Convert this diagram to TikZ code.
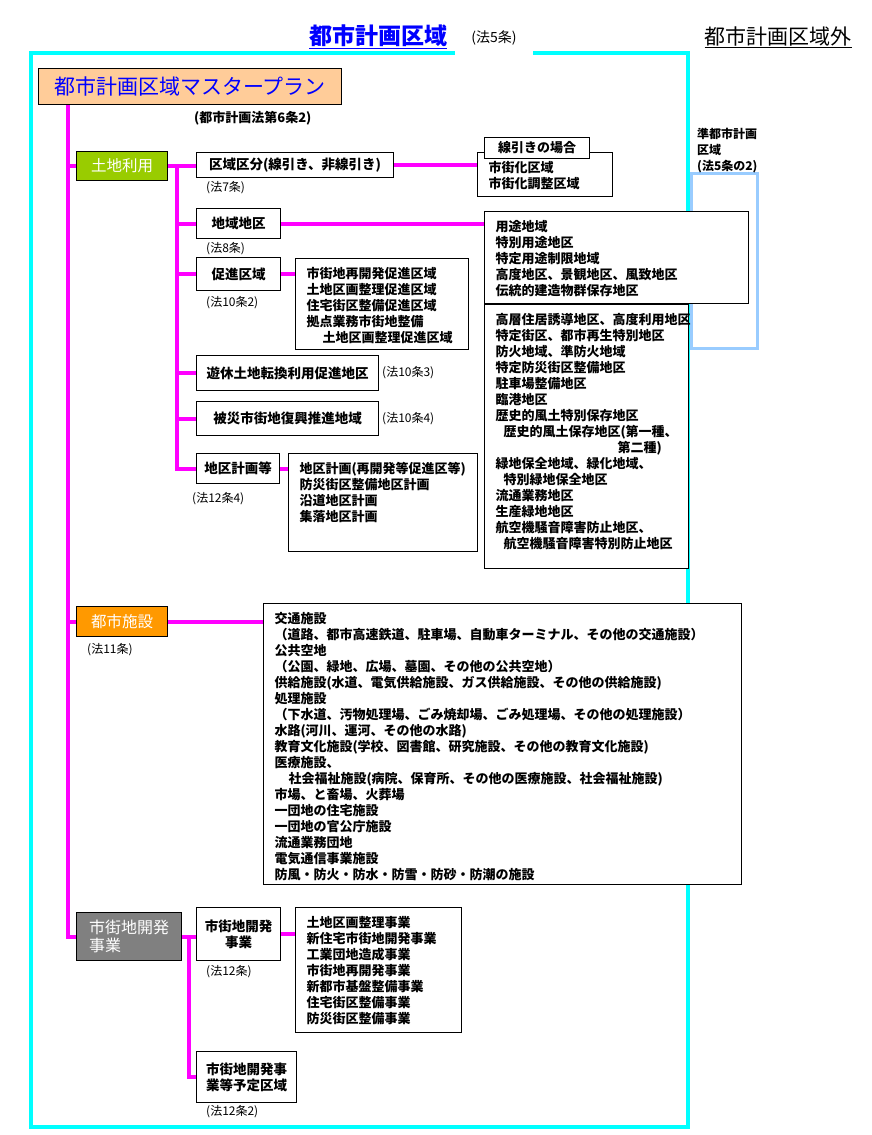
\documentclass[tikz,border=0pt]{standalone}
\usepackage{fontspec}
\setmainfont{Noto Sans CJK JP}
\usepackage{tikz}
\usetikzlibrary{positioning}
\definecolor{peach}{HTML}{FFCC99}
\definecolor{leafgreen}{HTML}{99CC00}
\definecolor{amber}{HTML}{FF9900}
\definecolor{slate}{HTML}{808080}
\definecolor{skyline}{HTML}{99CCFF}
\definecolor{fuchsia}{RGB}{255,0,255}
\definecolor{aqua}{RGB}{0,255,255}
\definecolor{titleblue}{RGB}{0,0,255}
\tikzset{
    link/.style={fuchsia, line width=4pt},
    area frame/.style={aqua, line width=4pt},
    semi frame/.style={skyline, line width=3pt},
    box size/.style 2 args={minimum width=#1, minimum height=#2},
    cat box/.style={draw, line width=1pt, anchor=north west, inner sep=0pt, text=white, font=\fontsize{15.5}{18}\selectfont},
    item box/.style={draw, fill=white, line width=1pt, anchor=north west, inner sep=0pt, align=center, font=\bfseries\fontsize{13.5}{16}\selectfont},
    list box/.style 2 args={item box, align=left, inner xsep=11pt, inner ysep=4pt, text width=#1-22, text height=16pt, text depth=#2-24, font=\bfseries\fontsize{13}{16}\selectfont},
    law tag/.style={inner sep=0pt, font=\fontsize{12}{14}\selectfont},
}

\begin{document}
\begin{tikzpicture}[x=1pt, y=-1pt]
    \fill[white] (0,0) rectangle (871,1135);
    \useasboundingbox (0,0) rectangle (871,1135);
    % frames
    \draw[area frame] (31,53) rectangle (688,1127);
    \draw[semi frame] (691,173) rectangle (757,348);
    % titles
    \node[text=titleblue, font=\bfseries\fontsize{23}{26}\selectfont] (title) at (378,37) {\underline{都市計画区域}};
    \node[fill=white, box size={78}{36}, font=\fontsize{14}{16}\selectfont] (titleLaw) at (494,38) {(法5条)};
    \node[font=\fontsize{21}{24}\selectfont] (outside) at (778,37) {\underline{都市計画区域外}};
    \node[anchor=north west, align=left, inner sep=0pt, font=\bfseries\fontsize{12}{16}\selectfont] (semiArea) at (697,128) {準都市計画\\区域\\(法5条の2)};

    % master plan
    \node[draw, line width=1pt, fill=peach, text=titleblue, anchor=north west, inner sep=0pt, box size={303}{36}, font=\fontsize{21}{24}\selectfont] (masterPlan) at (38,68) {都市計画区域マスタープラン};
    \node[law tag, anchor=west, font=\bfseries\fontsize{13}{15}\selectfont] (planLaw) at (194,118) {(都市計画法第6条2)};

    % categories
    \node[cat box, fill=leafgreen, box size={91}{29}] (landUse) at (76,151) {土地利用};
    \node[cat box, fill=amber, box size={91}{30}] (facility) at (76,606) {都市施設};
    \node[cat box, fill=slate, box size={105}{48}, align=left, font=\fontsize{16}{18}\selectfont] (devCat) at (76,912) {市街地開発\\事業};

    % land use
    \node[item box, box size={197}{25}] (division) at (196,152) {区域区分(線引き、非線引き)};
    \node[law tag, anchor=north west] (divisionLaw) at ([shift={(10,3)}]division.south west) {(法7条)};
    \node[list box={135}{44}] (divisionList) at (477,152) {市街化区域\\市街化調整区域};
    \node[item box, box size={105}{21}, font=\bfseries\fontsize{13}{15}\selectfont] (divisionCase) at (484,137) {線引きの場合};

    \node[item box, box size={84}{30}] (zoning) at (196,208) {地域地区};
    \node[law tag, anchor=north west] (zoningLaw) at ([shift={(10,3)}]zoning.south west) {(法8条)};
    \node[list box={264}{92}] (zoningList) at (484,211) {用途地域\\特別用途地区\\特定用途制限地域\\高度地区、景観地区、風致地区\\伝統的建造物群保存地区};
    \node[list box={204}{264}] (zoningMore) at (zoningList.south west) {高層住居誘導地区、高度利用地区\\特定街区、都市再生特別地区\\防火地域、準防火地域\\特定防災街区整備地区\\駐車場整備地区\\臨港地区\\歴史的風土特別保存地区\\\hspace*{8pt}歴史的風土保存地区(第一種、\\\hspace*{122pt}第二種)\\緑地保全地域、緑化地域、\\\hspace*{8pt}特別緑地保全地区\\流通業務地区\\生産緑地地区\\航空機騒音障害防止地区、\\\hspace*{8pt}航空機騒音障害特別防止地区};

    \node[item box, box size={84}{33}] (promotion) at (196,257) {促進区域};
    \node[law tag, anchor=north west] (promotionLaw) at ([shift={(10,5)}]promotion.south west) {(法10条2)};
    \node[list box={173}{91}] (promotionList) at (295,258) {市街地再開発促進区域\\土地区画整理促進区域\\住宅街区整備促進区域\\拠点業務市街地整備\\\hspace*{16pt}土地区画整理促進区域};

    \node[item box, box size={182}{35}] (idleLand) at (196,355) {遊休土地転換利用促進地区};
    \node[law tag, right=3pt of idleLand] (idleLandLaw) {(法10条3)};
    \node[item box, box size={182}{34}] (disaster) at (196,401) {被災市街地復興推進地域};
    \node[law tag, right=3pt of disaster] (disasterLaw) {(法10条4)};

    \node[item box, box size={83}{30}] (districtPlan) at (196,453) {地区計画等};
    \node[law tag, anchor=north west] (districtLaw) at ([shift={(-4,8)}]districtPlan.south west) {(法12条4)};
    \node[list box={189}{98}] (districtList) at (288,453) {地区計画(再開発等促進区等)\\防災街区整備地区計画\\沿道地区計画\\集落地区計画};

    % facilities
    \node[law tag, anchor=north west] (facilityLaw) at ([shift={(11,6)}]facility.south west) {(法11条)};
    \node[list box={478}{281}] (facilityList) at (263,603) {交通施設\\（道路、都市高速鉄道、駐車場、自動車ターミナル、その他の交通施設）\\公共空地\\（公園、緑地、広場、墓園、その他の公共空地）\\供給施設(水道、電気供給施設、ガス供給施設、その他の供給施設)\\処理施設\\（下水道、汚物処理場、ごみ焼却場、ごみ処理場、その他の処理施設）\\水路(河川、運河、その他の水路)\\教育文化施設(学校、図書館、研究施設、その他の教育文化施設)\\医療施設、\\\hspace*{14pt}社会福祉施設(病院、保育所、その他の医療施設、社会福祉施設)\\市場、と畜場、火葬場\\一団地の住宅施設\\一団地の官公庁施設\\流通業務団地\\電気通信事業施設\\防風・防火・防水・防雪・防砂・防潮の施設};

    % development
    \node[item box, box size={84}{53}] (devProject) at (196,907) {市街地開発\\事業};
    \node[law tag, anchor=north west] (devProjectLaw) at ([shift={(10,4)}]devProject.south west) {(法12条)};
    \node[list box={166}{125}] (devList) at (295,907) {土地区画整理事業\\新住宅市街地開発事業\\工業団地造成事業\\市街地再開発事業\\新都市基盤整備事業\\住宅街区整備事業\\防災街区整備事業};
    \node[item box, box size={100}{51}] (devReserve) at (196,1051) {市街地開発事\\業等予定区域};
    \node[law tag, anchor=north west] (devReserveLaw) at ([shift={(10,2)}]devReserve.south west) {(法12条2)};

    % links
    \coordinate (trunk) at ([xshift=30pt]masterPlan.south west);
    \draw[link] (trunk) |- (devCat.west);
    \draw[link] (trunk |- landUse.west) -- (landUse.west);
    \draw[link] (trunk |- facility.west) -- (facility.west);
    \coordinate (landBranch) at ([xshift=9pt]landUse.east);
    \draw[link] (landUse.east) -- (landUse.east -| division.west);
    \draw[link] (landBranch) |- (districtPlan.west);
    \foreach \n in {zoning, promotion, idleLand, disaster}
        \draw[link] (landBranch |- \n.west) -- (\n.west);
    \draw[link] (division.east) -- (division.east -| divisionList.west);
    \draw[link] (zoning.east) -- (zoning.east -| zoningList.west);
    \draw[link] (promotion.east) -- (promotion.east -| promotionList.west);
    \draw[link] (districtPlan.east) -- (districtPlan.east -| districtList.west);
    \draw[link] (facility.east) -- (facility.east -| facilityList.west);
    \coordinate (devBranch) at ([xshift=7pt]devCat.east);
    \draw[link] (devCat.east) -- (devCat.east -| devProject.west);
    \draw[link] (devBranch) |- (devReserve.west);
    \draw[link] (devProject.east) -- (devProject.east -| devList.west);
\end{tikzpicture}
\end{document}
